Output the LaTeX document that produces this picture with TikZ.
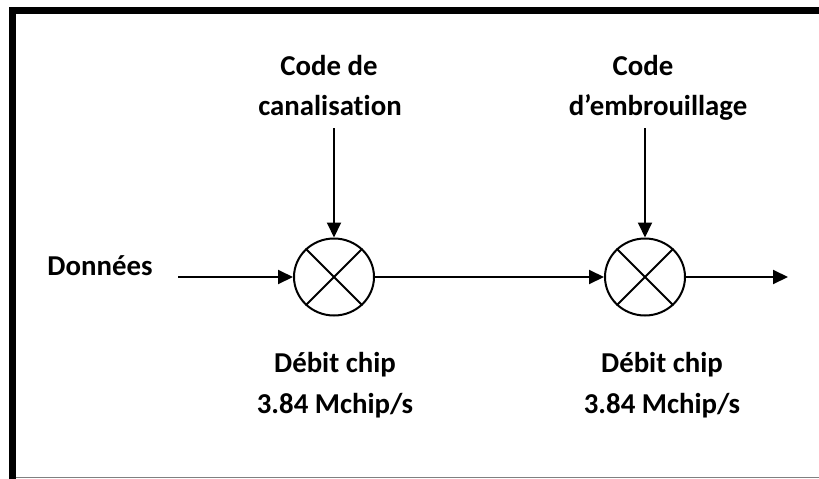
\documentclass[tikz,border=0pt]{standalone}
\usepackage{fontspec}
\setmainfont[Ligatures=NoCommon]{Carlito}
\usetikzlibrary{arrows.meta,shapes.geometric}
\begin{document}
\begin{tikzpicture}[x=1pt,y=-1pt,
  lbl/.style={font=\fontsize{28.8}{40}\selectfont\bfseries, anchor=base, inner sep=0pt},
  mix/.style={draw, ellipse, line width=2pt, minimum width=80pt, minimum height=77pt, inner sep=0pt},
  cross/.style={line width=2pt},
  arr/.style={line width=2pt, -{Triangle[length=15pt,width=14pt]}}]
\fill[white] (0,0) rectangle (819,479);
\useasboundingbox (0,0) rectangle (819,479);
% frame
\fill[black] (9,7) rectangle (819,13.5);
\fill[black] (9,7) rectangle (15.5,479);
\draw[black!50, line width=1.5pt] (15.5,477.5) -- (819,477.5);
% texts
\node[lbl] (codeA) at (329,75) {Code de};
\node[lbl] (codeB) at (330,115) {canalisation};
\node[lbl] (embA) at (643,75) {Code};
\node[lbl] (embB) at (658,115) {d’embrouillage};
\node[lbl] (don) at (100,275) {Données};
\node[lbl] (debA) at (335,372) {Débit chip};
\node[lbl] (rateA) at (335,413) {3.84 Mchip/s};
\node[lbl] (debB) at (662,372) {Débit chip};
\node[lbl] (rateB) at (662,413) {3.84 Mchip/s};
% mixers
\node[mix] (m1) at (334,277) {};
\node[mix] (m2) at (645,277) {};
\draw[cross] (m1.45) -- (m1.225) (m1.135) -- (m1.-45);
\draw[cross] (m2.45) -- (m2.225) (m2.135) -- (m2.-45);
% connector ends
\coordinate (in1) at (178,277);
\coordinate (top1) at (334,128);
\coordinate (top2) at (645,128);
\coordinate (out) at (788,277);
\draw[arr] (in1) -- (m1);
\draw[arr] (top1) -- (m1);
\draw[arr] (top2) -- (m2);
\draw[arr] (m1) -- (m2);
\draw[arr] (m2) -- (out);
\end{tikzpicture}
\end{document}
